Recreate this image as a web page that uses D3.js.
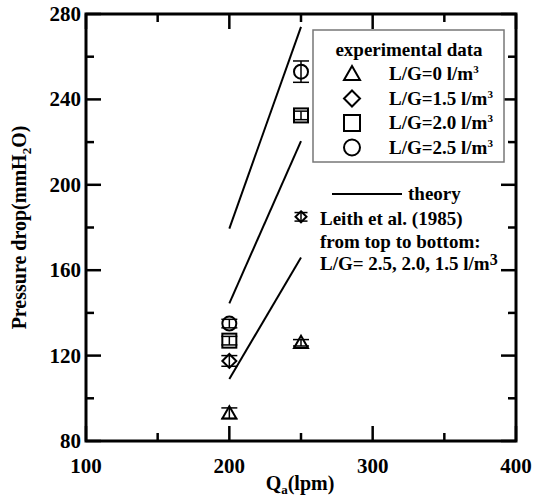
<!DOCTYPE html>
<html><head><meta charset="utf-8">
<script src="https://cdn.jsdelivr.net/npm/d3@7/dist/d3.min.js"></script>
<style>
html,body{margin:0;padding:0;background:#fff;}
svg text{font-family:"Liberation Serif","Times New Roman",serif;font-weight:bold;fill:#000;}
</style></head><body>
<svg id="c" width="534" height="499"></svg>
<script>
// ---- data ----
const qa = [200, 250];
const lg0 = [93, 126];        const lg0Err = [2.5, 1.5];
const lg15 = [117.5, 185];    const lg15Err = [2.5, 2];
const lg20 = [127, 232.5];    const lg20Err = [2, 2];
const lg25 = [135, 253];      const lg25Err = [2, 5];
const theoryQa = [200, 250];
const theory25 = [179.5, 274];
const theory20 = [144.5, 220.5];
const theory15 = [109, 166];
const xTicks = [100, 200, 300, 400];
const xMinor = [150, 250, 350];
const yTicks = [80, 120, 160, 200, 240, 280];
const yMinor = [100, 140, 180, 220, 260];
const legendLabels = ["L/G=0 l/m", "L/G=1.5 l/m", "L/G=2.0 l/m", "L/G=2.5 l/m"];

const svg = d3.select("#c");
const L = 86, R = 516, T = 14, B = 441;
const x = d3.scaleLinear().domain([100, 400]).range([L, R]);
const y = d3.scaleLinear().domain([80, 280]).range([B, T]);

// theory lines
const line = d3.line().x(d => x(d[0])).y(d => y(d[1]));
[theory25, theory20, theory15].forEach(t => {
  svg.append("path").attr("d", line(theoryQa.map((q, i) => [q, t[i]])))
    .attr("fill", "none").attr("stroke", "#000").attr("stroke-width", 2);
});

// symbols
function sym(g, type, cx, cy, s) {
  const h = s / 2;
  if (type === "tri") {
    g.append("path").attr("d", `M${cx},${cy - h} L${cx + h},${cy + h * 0.75} L${cx - h},${cy + h * 0.75} Z`);
  } else if (type === "dia") {
    g.append("path").attr("d", `M${cx},${cy - h} L${cx + h},${cy} L${cx},${cy + h} L${cx - h},${cy} Z`);
  } else if (type === "sq") {
    g.append("rect").attr("x", cx - h).attr("y", cy - h).attr("width", s).attr("height", s);
  } else {
    g.append("circle").attr("cx", cx).attr("cy", cy).attr("r", h);
  }
}
const pts = svg.append("g").attr("fill", "none").attr("stroke", "#000").attr("stroke-width", 2);
const series = [
  {type: "tri", v: lg0, e: lg0Err},
  {type: "dia", v: lg15, e: lg15Err},
  {type: "sq", v: lg20, e: lg20Err},
  {type: "circ", v: lg25, e: lg25Err}
];
series.forEach(s => {
  qa.forEach((q, i) => {
    const cx = x(q), cy = y(s.v[i]);
    const size = (s.type === "dia" && i === 1) ? 11 : 14;
    sym(pts, s.type, cx, cy, size);
    const y1 = y(s.v[i] + s.e[i]), y2 = y(s.v[i] - s.e[i]);
    const cw = size / 2 + 1;
    pts.append("line").attr("x1", cx).attr("x2", cx).attr("y1", y1).attr("y2", y2).attr("stroke-width", 1.5);
    pts.append("line").attr("x1", cx - cw).attr("x2", cx + cw).attr("y1", y1).attr("y2", y1).attr("stroke-width", 1.5);
    pts.append("line").attr("x1", cx - cw).attr("x2", cx + cw).attr("y1", y2).attr("y2", y2).attr("stroke-width", 1.5);
  });
});

// axes frame
svg.append("rect").attr("x", L).attr("y", T).attr("width", R - L).attr("height", B - T)
  .attr("fill", "none").attr("stroke", "#000").attr("stroke-width", 3);
const tk = svg.append("g").attr("stroke", "#000").attr("stroke-width", 2.5);
xTicks.forEach(v => { tk.append("line").attr("x1", x(v)).attr("x2", x(v)).attr("y1", B).attr("y2", B - 15);
  tk.append("line").attr("x1", x(v)).attr("x2", x(v)).attr("y1", T).attr("y2", T + 15); });
xMinor.forEach(v => { tk.append("line").attr("x1", x(v)).attr("x2", x(v)).attr("y1", B).attr("y2", B - 8);
  tk.append("line").attr("x1", x(v)).attr("x2", x(v)).attr("y1", T).attr("y2", T + 8); });
yTicks.forEach(v => { tk.append("line").attr("y1", y(v)).attr("y2", y(v)).attr("x1", L).attr("x2", L + 15);
  tk.append("line").attr("y1", y(v)).attr("y2", y(v)).attr("x1", R).attr("x2", R - 15); });
yMinor.forEach(v => { tk.append("line").attr("y1", y(v)).attr("y2", y(v)).attr("x1", L).attr("x2", L + 8);
  tk.append("line").attr("y1", y(v)).attr("y2", y(v)).attr("x1", R).attr("x2", R - 8); });

// tick labels
svg.selectAll(".xl").data(xTicks).enter().append("text")
  .attr("x", d => x(d)).attr("y", B + 32).attr("text-anchor", "middle").attr("font-size", 21).text(d => d);
svg.selectAll(".yl").data(yTicks).enter().append("text")
  .attr("x", L - 5).attr("y", d => y(d) + 7).attr("text-anchor", "end").attr("font-size", 21).text(d => d);

// axis titles
const xt = svg.append("text").attr("x", 300).attr("y", 490).attr("text-anchor", "middle").attr("font-size", 20);
xt.append("tspan").text("Q");
xt.append("tspan").attr("font-size", 13).attr("dy", 4).text("a");
xt.append("tspan").attr("dy", -4).text("(lpm)");
const yt = svg.append("text").attr("transform", `translate(26,${(T + B) / 2}) rotate(-90)`)
  .attr("text-anchor", "middle").attr("font-size", 20);
yt.append("tspan").text("Pressure drop(mmH");
yt.append("tspan").attr("font-size", 13).attr("dy", 5).text("2");
yt.append("tspan").attr("dy", -5).text("O)");

// legend box
svg.append("rect").attr("x", 313).attr("y", 30).attr("width", 191).attr("height", 132)
  .attr("fill", "#fff").attr("stroke", "#777").attr("stroke-width", 1.5);
svg.append("text").attr("x", 409).attr("y", 56).attr("text-anchor", "middle").attr("font-size", 19).text("experimental data");
const lg = svg.append("g").attr("fill", "none").attr("stroke", "#000").attr("stroke-width", 2);
const types = ["tri", "dia", "sq", "circ"];
legendLabels.forEach((lab, i) => {
  const cy = 74 + i * 24.5;
  sym(lg, types[i], 352, cy, 16);
  const t = svg.append("text").attr("x", 389).attr("y", cy + 6).attr("font-size", 19);
  t.append("tspan").text(lab);
  t.append("tspan").attr("font-size", 11).attr("dy", -7).text("3");
});

// theory / Leith legend
svg.append("line").attr("x1", 332).attr("x2", 402).attr("y1", 194).attr("y2", 194)
  .attr("stroke", "#000").attr("stroke-width", 2);
svg.append("text").attr("x", 408).attr("y", 200).attr("font-size", 19).text("theory");
svg.append("text").attr("x", 320).attr("y", 225).attr("font-size", 19).text("Leith et al. (1985)");
svg.append("text").attr("x", 320).attr("y", 248).attr("font-size", 19).text("from top to bottom:");
const lt = svg.append("text").attr("x", 320).attr("y", 270).attr("font-size", 19);
lt.append("tspan").text("L/G= 2.5, 2.0, 1.5 l/m");
lt.append("tspan").attr("font-size", 16).attr("dy", -5).text("3");
</script>
</body></html>
